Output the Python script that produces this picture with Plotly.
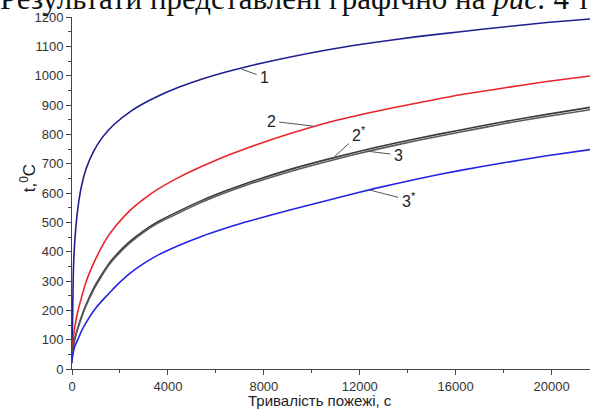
import plotly.graph_objects as go

# time, s
t = [0, 60, 120, 240, 400, 600, 900, 1200, 1500, 1800, 2400, 3000, 3600, 4500, 5400,
     6300, 7200, 9000, 10800, 12600, 14400, 16200, 18000, 19800, 21600]

curve_1 = [20, 340, 440, 545, 625, 685, 742, 782, 812, 837, 876, 906, 931, 962, 988,
           1010, 1029, 1062, 1090, 1113, 1133, 1150, 1166, 1181, 1193]
curve_2 = [40, 110, 145, 195, 245, 300, 360, 410, 452, 485, 539, 580, 614, 655, 690,
           722, 750, 800, 843, 877, 907, 935, 958, 980, 999]
curve_2s = [35, 80, 105, 140, 180, 222, 275, 317, 355, 385, 434, 472, 503, 540, 574,
            604, 631, 678, 718, 754, 786, 815, 843, 868, 892]
curve_3 = [35, 78, 102, 137, 176, 218, 270, 312, 350, 380, 429, 467, 498, 534, 568,
           598, 625, 671, 711, 747, 779, 808, 836, 861, 884]
curve_3s = [30, 60, 78, 100, 130, 160, 198, 228, 254, 280, 325, 360, 389, 423, 452,
            477, 500, 540, 578, 615, 648, 677, 703, 727, 748]

series_names = ["1", "2", "2*", "3", "3*"]
series_values = [curve_1, curve_2, curve_2s, curve_3, curve_3s]
series_colors = ["#1f1f8f", "#e8252b", "#3a3a3a", "#5a5a5a", "#2323e6"]

# curve labels: text, point on curve (t, value), offset of text in px
label_texts = ["1", "2", "2<sup>*</sup>", "3", "3<sup>*</sup>"]
label_points = [(7070, 1022), (10055, 828), (10958, 725), (12278, 743), (12417, 610)]
label_offsets = [(23, 8), (-42, -5), (24, -22), (32, 4), (39, 10)]

x_ticks = [0, 4000, 8000, 12000, 16000, 20000]
x_tick_text = ["0", "4000", "8000", "12000", "16000", "20000"]
y_ticks = list(range(0, 1201, 100))

fig = go.Figure()
for name, vals, col in zip(series_names, series_values, series_colors):
    fig.add_trace(go.Scatter(x=t, y=vals, mode="lines", name=name,
                             line=dict(color=col, width=1.6, shape="spline", smoothing=0.6),
                             showlegend=False, hoverinfo="skip"))

for txt, (px, py), (ox, oy) in zip(label_texts, label_points, label_offsets):
    fig.add_annotation(x=px, y=py, text=txt, showarrow=True, ax=ox, ay=oy,
                       arrowhead=0, arrowwidth=1, arrowcolor="#555555",
                       standoff=0, startstandoff=2,
                       font=dict(family="Liberation Sans, Arial", size=16, color="#222222"))

# top text of the scanned page (partly cut)
fig.add_annotation(xref="paper", yref="paper", x=-0.143, y=1.0,
                   xanchor="left", yanchor="bottom", yshift=-1,
                   text="Результати представлені графічно на <i>рис.</i> 4 т",
                   showarrow=False,
                   font=dict(family="Liberation Serif, Times New Roman", size=31, color="#111111"))

# axis titles
fig.add_annotation(xref="paper", yref="paper", x=-0.085, y=0.5417,
                   xanchor="center", yanchor="middle", textangle=-90,
                   text="t,<sup>0</sup>C", showarrow=False,
                   font=dict(family="Liberation Sans, Arial", size=17, color="#222"))
fig.add_annotation(xref="paper", yref="paper", x=0.479, y=-0.09,
                   xanchor="center", yanchor="middle",
                   text="Тривалість пожежі, с", showarrow=False,
                   font=dict(family="Liberation Sans, Arial", size=15, color="#222"))

fig.update_layout(
    width=596, height=409,
    margin=dict(l=72, r=6, t=17, b=40),
    paper_bgcolor="white", plot_bgcolor="white",
    font=dict(family="Liberation Sans, Arial", size=13, color="#333333"),
    xaxis=dict(range=[0, 21600], tickvals=x_ticks, ticktext=x_tick_text,
               ticks="outside", ticklen=5, automargin=False,
               tickcolor="#444", tickwidth=1, showline=True, linecolor="#444",
               linewidth=1, showgrid=False, zeroline=False,
               minor=dict(dtick=2000, tick0=0, ticks="outside", ticklen=3, tickcolor="#444")),
    yaxis=dict(range=[0, 1200], tickvals=y_ticks, ticks="outside", ticklen=5,
               automargin=False,
               tickcolor="#444", tickwidth=1, showline=True, linecolor="#444",
               linewidth=1, showgrid=False, zeroline=False,
               minor=dict(dtick=50, tick0=0, ticks="outside", ticklen=3, tickcolor="#444")),
)

fig.write_html("out.html", config={"displayModeBar": False},
               post_script="document.body.style.margin='0px';")
